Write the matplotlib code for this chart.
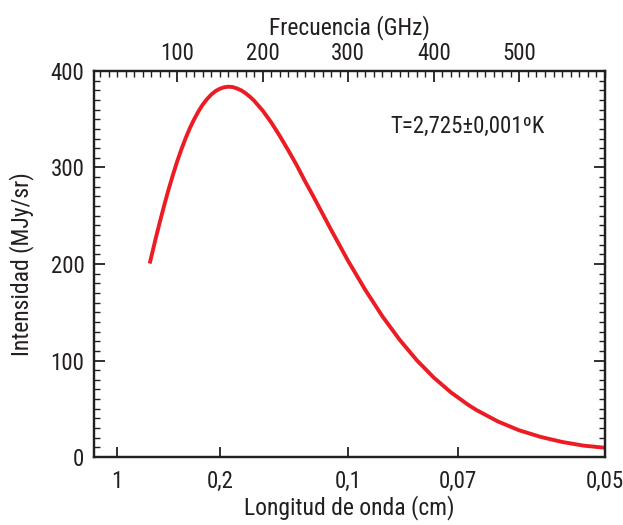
import numpy as np
import matplotlib
matplotlib.use("Agg")
import matplotlib.pyplot as plt
from matplotlib import font_manager
from matplotlib.ticker import MultipleLocator, FixedLocator

# datos (frecuencia en GHz, intensidad en MJy/sr)
freq_ghz = [68, 75, 80, 85, 90, 95, 100, 105, 110, 115, 120, 125, 130, 135, 140,
            145, 150, 155, 160, 165, 170, 175, 180, 185, 190, 200, 210, 220,
            230, 240, 250, 260, 280, 300, 320, 340, 360, 380, 400, 420, 440,
            450, 475, 500, 525, 550, 575, 600]
intensidad = [200.5, 226.4, 244, 261, 277, 291.9, 306, 318.7, 330.4, 340.9, 350,
              358.2, 365.2, 370.9, 375.6, 379.2, 381.6, 383.1, 383.7, 383.3,
              381.9, 379.9, 377, 373.4, 369.2, 359, 346.7, 332.7, 317.7, 302,
              285, 268.8, 235.4, 203, 173.1, 145.7, 121.6, 100.4, 82.3, 67.0,
              54.2, 48.6, 36.8, 27.6, 20.8, 15.6, 11.8, 9.6]

# eje inferior: longitud de onda
long_onda_lbl = ["1", "0,2", "0,1", "0,07", "0,05"]
long_onda_cm = [1, 0.2, 0.1, 0.07, 0.05]
# eje superior: frecuencia
freq_ticks = [100, 200, 300, 400, 500]

disponibles = {f.name for f in font_manager.fontManager.ttflist}
FUENTE = [f for f in ["Liberation Sans Narrow", "Roboto Condensed", "Liberation Sans"]
          if f in disponibles] + ["DejaVu Sans"]
plt.rcParams["font.family"] = FUENTE

NEGRO = "#231f20"
TAM = 17
TAM_TICK = 16.5

fig = plt.figure(figsize=(6.23, 5.25), dpi=100)
ax = fig.add_axes([0.151, 0.1295, 0.82, 0.7353])

ax.plot(freq_ghz, intensidad, color="#ec1c24", linewidth=2.8,
        solid_capstyle="butt", solid_joinstyle="round")

ax.set_xlim(3, 600)
ax.set_ylim(0, 400)

# posiciones de longitud de onda -> frecuencia (c = 30 GHz*cm)
pos_bottom = [30.0 / l for l in long_onda_cm]
ax.xaxis.set_major_locator(FixedLocator(pos_bottom))
ax.set_xticklabels(long_onda_lbl)
ax.yaxis.set_major_locator(MultipleLocator(100))
ax.yaxis.set_minor_locator(MultipleLocator(10))

ax.tick_params(axis="x", which="major", direction="in", length=7, width=1.3,
               labelsize=TAM_TICK, pad=9, top=False, colors=NEGRO)
ax.tick_params(axis="y", which="major", direction="in", length=8, width=1.3,
               labelsize=TAM_TICK, right=True, pad=7, colors=NEGRO)
ax.tick_params(axis="y", which="minor", direction="in", length=4, width=1.0,
               right=True, colors=NEGRO)
# la ultima etiqueta pegada al borde derecho
ax.get_xticklabels()[-1].set_horizontalalignment("center")

for s in ax.spines.values():
    s.set_linewidth(1.6)
    s.set_color(NEGRO)

# eje superior de frecuencia
ax_top = ax.twiny()
ax_top.set_xlim(ax.get_xlim())
ax_top.xaxis.set_major_locator(FixedLocator(freq_ticks))
ax_top.xaxis.set_minor_locator(MultipleLocator(10))
ax_top.tick_params(axis="x", which="major", direction="in", length=8, width=1.3,
                   labelsize=TAM_TICK, pad=4, colors=NEGRO)
ax_top.tick_params(axis="x", which="minor", direction="in", length=4, width=1.0,
                   colors=NEGRO)
ax_top.set_xlabel("Frecuencia (GHz)", fontsize=TAM, labelpad=6, color=NEGRO)
for s in ax_top.spines.values():
    s.set_linewidth(1.6)
    s.set_color(NEGRO)

ax.set_xlabel("Longitud de onda (cm)", fontsize=TAM, labelpad=2, color=NEGRO)
ax.set_ylabel("Intensidad (MJy/sr)", fontsize=TAM, labelpad=12, color=NEGRO)

ax.text(0.73, 0.857, "T=2,725±0,001ºK", transform=ax.transAxes, fontsize=16.5,
        ha="center", va="center", color=NEGRO)

fig.savefig("out.png", dpi=100)
